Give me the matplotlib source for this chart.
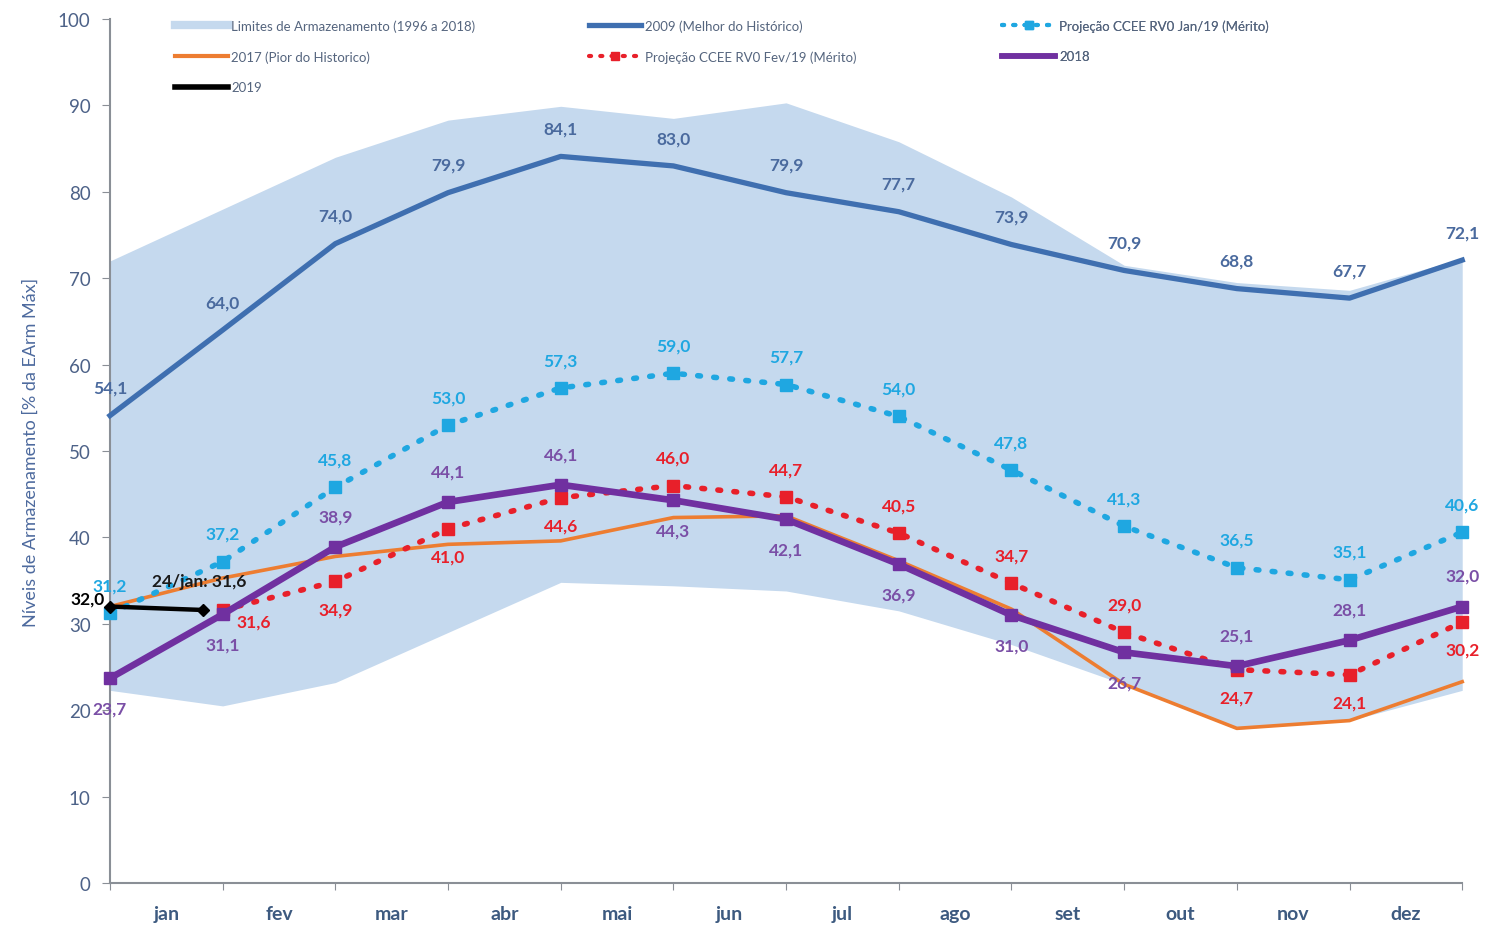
import matplotlib
matplotlib.use("Agg")
import matplotlib.pyplot as plt
from matplotlib.lines import Line2D
import numpy as np

plt.rcParams['font.family'] = ['Lato', 'DejaVu Sans']

months = ['jan', 'fev', 'mar', 'abr', 'mai', 'jun', 'jul', 'ago', 'set', 'out', 'nov', 'dez']
x_full = list(range(13))

band_upper = [72.0, 78.0, 84.0, 88.3, 89.9, 88.5, 90.3, 85.8, 79.4, 71.5, 69.5, 68.6, 72.3]
band_lower = [22.3, 20.5, 23.2, 29.0, 34.8, 34.4, 33.8, 31.5, 27.6, 23.0, 17.8, 18.8, 22.3]

best_2009 = [54.1, 64.0, 74.0, 79.9, 84.1, 83.0, 79.9, 77.7, 73.9, 70.9, 68.8, 67.7, 72.1]
proj_jan19 = [31.2, 37.2, 45.8, 53.0, 57.3, 59.0, 57.7, 54.0, 47.8, 41.3, 36.5, 35.1, 40.6]
x_fev19 = list(range(1, 13))
proj_fev19 = [31.6, 34.9, 41.0, 44.6, 46.0, 44.7, 40.5, 34.7, 29.0, 24.7, 24.1, 30.2]
y2018 = [23.7, 31.1, 38.9, 44.1, 46.1, 44.3, 42.1, 36.9, 31.0, 26.7, 25.1, 28.1, 32.0]
worst_2017 = [32.0, 35.3, 37.8, 39.2, 39.6, 42.3, 42.5, 37.3, 31.7, 23.0, 17.9, 18.8, 23.3]
x_2019 = [0, 0.83]
y_2019 = [32.0, 31.6]

# label placement: +1 above, -1 below
fev19_pos = [-1, -1, -1, -1, 1, 1, 1, 1, 1, -1, -1, -1]
y2018_pos = [-1, -1, 1, 1, 1, -1, -1, -1, -1, -1, 1, 1, 1]

C_BAND = '#c5d9ee'
C_2009 = '#3f6fb0'
C_JAN = '#1fa7e1'
C_FEV = '#e8202a'
C_2018 = '#7030a0'
C_2017 = '#ed7d31'
C_AX = '#8a8f96'

def fmt(v):
    return f"{v:.1f}".replace('.', ',')

fig = plt.figure(figsize=(14.86, 9.28), dpi=100)
ax = fig.add_axes([0.074, 0.0474, 0.910, 0.9310])

DOT = (0, (0.5, 2.4))

ax.fill_between(x_full, band_lower, band_upper, color=C_BAND, lw=0, zorder=1)
ax.plot(x_full, worst_2017, color=C_2017, lw=2.6, zorder=3, clip_on=False)
ax.plot(x_full, best_2009, color=C_2009, lw=3.8, zorder=4, clip_on=False)
ax.plot(x_full, proj_jan19, color=C_JAN, lw=4, linestyle=DOT, dash_capstyle='round',
        marker='s', markersize=9, zorder=5, clip_on=False)
ax.plot(x_fev19, proj_fev19, color=C_FEV, lw=4, linestyle=DOT, dash_capstyle='round',
        marker='s', markersize=8, zorder=5, clip_on=False)
ax.plot(x_full, y2018, color=C_2018, lw=4.8, marker='s', markersize=8, zorder=6, clip_on=False)
ax.plot(x_2019, y_2019, color='black', lw=3.2, marker='D', markersize=6, zorder=7, clip_on=False)

lab_kw = dict(textcoords='offset points', ha='center', va='center', fontsize=12.5, fontweight='bold',
              annotation_clip=False, zorder=8)
for xi, v in zip(x_full, best_2009):
    ax.annotate(fmt(v), (xi, v), xytext=(0, 20), color='#4a6a9e', **lab_kw)
for xi, v in zip(x_full, proj_jan19):
    ax.annotate(fmt(v), (xi, v), xytext=(0, 20), color=C_JAN, **lab_kw)
for i, (xi, v, p) in enumerate(zip(x_fev19, proj_fev19, fev19_pos)):
    dx = 22 if i == 0 else 0
    dy = -8 if i == 0 else 20 * p
    ax.annotate(fmt(v), (xi, v), xytext=(dx, dy), color=C_FEV, **lab_kw)
for xi, v, p in zip(x_full, y2018, y2018_pos):
    ax.annotate(fmt(v), (xi, v), xytext=(0, 22 * p), color='#7a4fa6', **lab_kw)
ax.annotate(fmt(y_2019[0]), (x_2019[0], y_2019[0]), xytext=(-16, 6), color='black', **lab_kw)
ax.annotate('24/jan: ' + fmt(y_2019[1]), (x_2019[1], y_2019[1]), xytext=(-3, 21), color='#1a1a1a',
            **lab_kw)

ax.set_xlim(0, 12)
ax.set_ylim(0, 100)
ax.set_yticks(range(0, 101, 10))
ax.set_xticks(x_full)
ax.set_xticklabels([])
ax.set_xticks([i + 0.5 for i in range(12)], minor=True)
ax.set_xticklabels(months, minor=True, fontsize=14, fontweight='bold', color='#3d5a80')
ax.tick_params(axis='x', which='minor', length=0, pad=16)
ax.tick_params(axis='x', which='major', length=5, color=C_AX, direction='out')
ax.tick_params(axis='y', length=6, color=C_AX, labelsize=13.5, labelcolor='#4d6288', pad=8)
for s in ['top', 'right']:
    ax.spines[s].set_visible(False)
for s in ['left', 'bottom']:
    ax.spines[s].set_color(C_AX)
    ax.spines[s].set_linewidth(1.5)
ax.set_ylabel('Níveis de Armazenamento [% da EArm Máx]', fontsize=13, color='#4d6a9e', labelpad=14)

h_band = Line2D([], [], color=C_BAND, lw=6)
h_2009 = Line2D([], [], color=C_2009, lw=3.8)
h_jan = Line2D([], [], color=C_JAN, lw=3, linestyle=(0, (0.5, 2.2)), marker='s', markersize=6,
               dash_capstyle='round')
h_2017 = Line2D([], [], color=C_2017, lw=3)
h_fev = Line2D([], [], color=C_FEV, lw=3, linestyle=(0, (0.5, 2.2)), marker='s', markersize=6,
               dash_capstyle='round')
h_2018 = Line2D([], [], color=C_2018, lw=4)
h_2019 = Line2D([], [], color='black', lw=4)

leg_kw = dict(frameon=False, fontsize=9.5, handlelength=4.0, handletextpad=0.3, labelspacing=1.4,
              labelcolor='#55657e', borderaxespad=0)
cols = [
    ([h_band, h_2017, h_2019], ['Limites de Armazenamento (1996 a 2018)', '2017 (Pior do Historico)', '2019'], 0.044),
    ([h_2009, h_fev], ['2009 (Melhor do Histórico)', 'Projeção CCEE RV0 Fev/19 (Mérito)'], 0.350),
    ([h_jan, h_2018], ['Projeção CCEE RV0 Jan/19 (Mérito)', '2018'], 0.656),
]
for handles, labels, xpos in cols:
    leg = ax.legend(handles, labels, loc='upper left', bbox_to_anchor=(xpos, 1.006), **leg_kw)
    ax.add_artist(leg)

fig.savefig('out.png', dpi=100, facecolor='white')
